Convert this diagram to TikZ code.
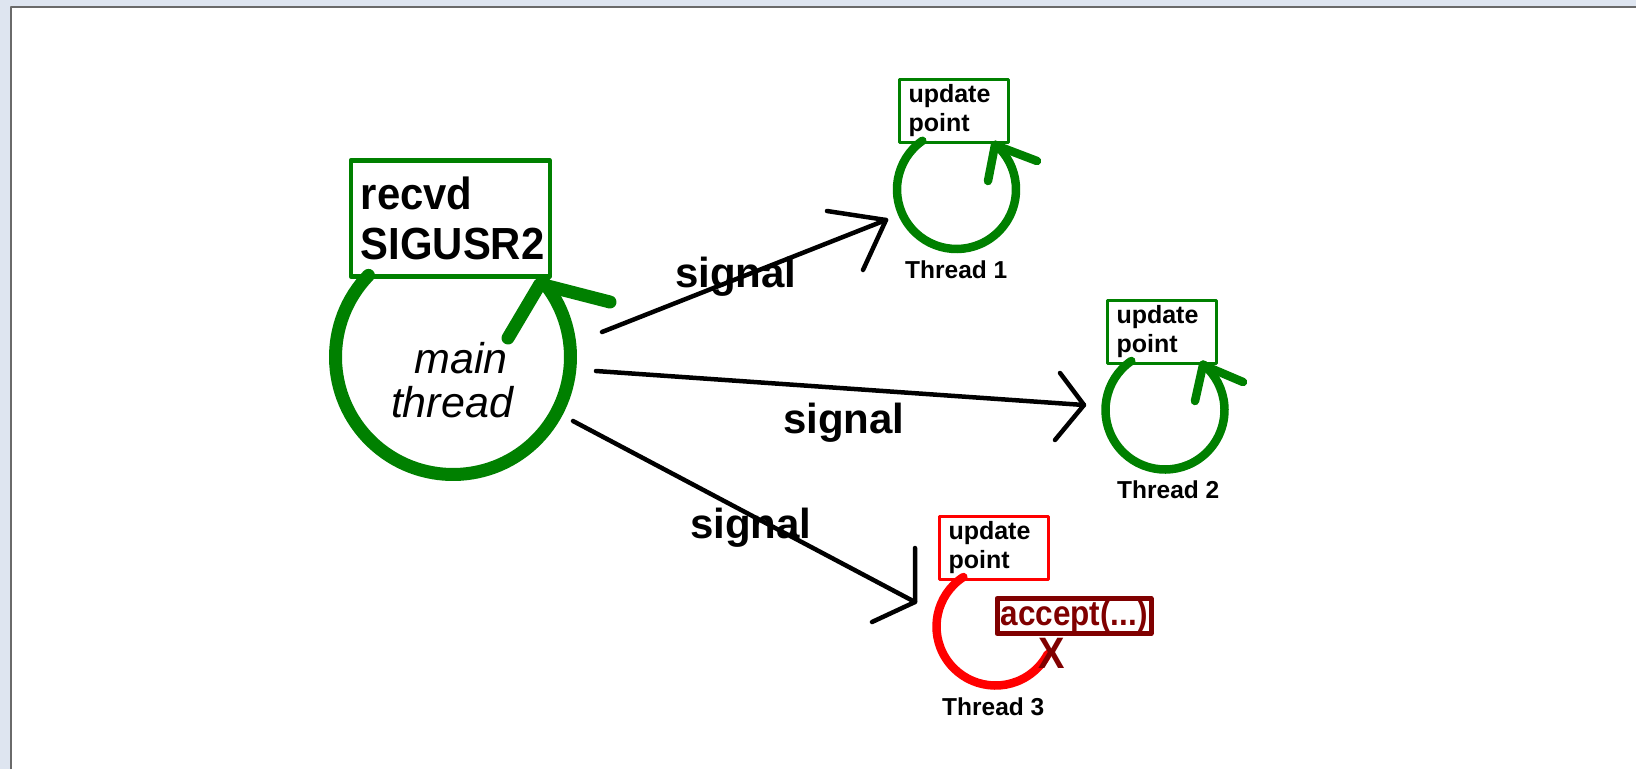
\documentclass[tikz,border=0pt]{standalone}
\usepackage{fontspec}
\setmainfont{Liberation Sans}
\newfontfamily\condsans{Liberation Sans}[FakeStretch=0.93]
\newfontfamily\accsans{Liberation Sans}[FakeStretch=0.9]
\definecolor{dgreen}{HTML}{008000}
\definecolor{dred}{HTML}{800000}
\definecolor{pred}{HTML}{FF0000}
\definecolor{framebg}{HTML}{DEE5F0}
\definecolor{frameline}{HTML}{6A6A6A}
\begin{document}
\begin{tikzpicture}[x=1pt, y=-1pt, line cap=round, line join=round,
  sigline/.style={draw=black, line width=4.5},
  siglabel/.style={anchor=base west, inner sep=0, font=\fontsize{42}{42}\selectfont\bfseries},
  thrlabel/.style={anchor=base west, inner sep=0, font=\fontsize{24.5}{24.5}\selectfont\bfseries},
  ubox/.style={draw=#1, line width=3, anchor=north west, minimum width=109, minimum height=63,
    inner xsep=9, inner ysep=0, text width=91, align=left, font=\fontsize{25}{29}\selectfont\bfseries},
  thrarc/.style={draw=#1, line width=8.5},
  mainarc/.style={draw=dgreen, line width=13}]
\useasboundingbox (0,0) rectangle (1636,769);
% window frame
\fill[framebg] (0,0) rectangle (1636,769);
\fill[white] (10,6) rectangle (1636,769);
\draw[frameline, line width=1.8, line cap=butt] (10.9,769) -- (10.9,6.9) -- (1636,6.9);

% ---------- main thread ----------
\coordinate (mc) at (453,357);
\node[draw=dgreen, line width=4.5, anchor=north west, minimum width=199, minimum height=116,
  inner xsep=10, inner ysep=0, text width=179, align=left,
  font=\condsans\fontsize{45}{50}\selectfont\bfseries] (recv) at (348.5,158) {recvd\\SIGUSR2};
\draw[mainarc] (mc) ++(-136:117.5) arc[start angle=-136, end angle=-400, radius=117.5];
\coordinate (mtip) at (540,284);
\coordinate (ma1) at (508,338);
\coordinate (ma2) at (610,302);
\draw[mainarc] (ma1) -- (mtip) -- (ma2);
\node[align=center, inner sep=0, font=\fontsize{43}{44}\selectfont\itshape] (mtxt) at (452,380) {\hspace*{18pt}main\\thread};

% ---------- thread 1 ----------
\coordinate (c1) at (956.5,189.5);
\node[ubox=dgreen] (up1) at (898,78) {update\\point};
\draw[thrarc=dgreen] (c1) ++(-125:59.5) arc[start angle=-125, end angle=-409, radius=59.5];
\coordinate (t1tip) at (995,145);
\coordinate (t1a) at (988,181);
\coordinate (t1b) at (1037,161);
\draw[thrarc=dgreen] (t1a) -- (t1tip) -- (t1b);
\node[thrlabel] (th1) at (905,278) {Thread 1};

% ---------- thread 2 ----------
\coordinate (c2) at (1165,410);
\node[ubox=dgreen] (up2) at (1106,299) {update\\point};
\draw[thrarc=dgreen] (c2) ++(-124.5:59.5) arc[start angle=-124.5, end angle=-410, radius=59.5];
\coordinate (t2tip) at (1203,365);
\coordinate (t2a) at (1195,401);
\coordinate (t2b) at (1243,382);
\draw[thrarc=dgreen] (t2a) -- (t2tip) -- (t2b);
\node[thrlabel] (th2) at (1117,498) {Thread 2};

% ---------- thread 3 ----------
\coordinate (c3) at (995.5,626.5);
\node[ubox=pred] (up3) at (938,515) {update\\point};
\draw[thrarc=pred] (c3) ++(-123:59) arc[start angle=-123, end angle=-332, radius=59];
\node[draw=dred, line width=5, fill=white, anchor=north west, minimum width=154, minimum height=35,
  inner sep=0, text=dred, font=\accsans\fontsize{35}{35}\selectfont\bfseries] (acc) at (994.5,596) {accept(...)};
\node[inner sep=0, text=dred, font=\accsans\fontsize{44}{44}\selectfont\bfseries] (xmark) at (1052,653) {X};
\node[thrlabel] (th3) at (942,715) {Thread 3};

% ---------- signal arrows ----------
\coordinate (s1) at (602,332);
\coordinate (e1) at (886,220);
\coordinate (e1u) at (827,211);
\coordinate (e1l) at (863,270);
\draw[sigline] (s1) -- (e1);
\draw[sigline] (e1u) -- (e1) -- (e1l);
\node[siglabel] (sig1) at (675,287) {signal};

\coordinate (s2) at (596,371);
\coordinate (e2) at (1084,405);
\coordinate (e2u) at (1060,373);
\coordinate (e2l) at (1055,440);
\draw[sigline] (s2) -- (e2);
\draw[sigline] (e2u) -- (e2) -- (e2l);
\node[siglabel] (sig2) at (783,433) {signal};

\coordinate (s3) at (573,421);
\coordinate (e3) at (915,602);
\coordinate (e3u) at (915,548);
\coordinate (e3l) at (872,622);
\draw[sigline] (s3) -- (e3);
\draw[sigline] (e3u) -- (e3) -- (e3l);
\node[siglabel] (sig3) at (690,538) {signal};
\end{tikzpicture}
\end{document}
